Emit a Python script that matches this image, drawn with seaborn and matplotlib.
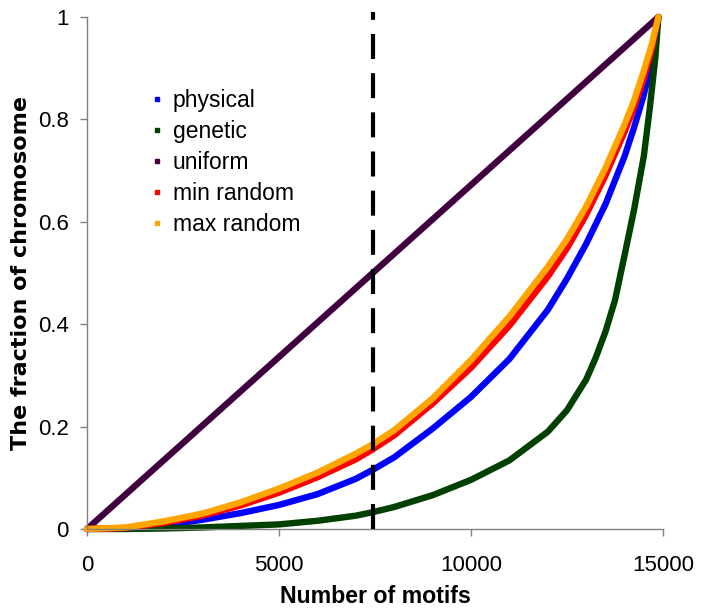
import numpy as np
import pandas as pd
import matplotlib
matplotlib.use("Agg")
import matplotlib.pyplot as plt
import seaborn as sns
from matplotlib.lines import Line2D

# --- data ---
motifs = [0, 1000, 2000, 3000, 4000, 5000, 6000, 7000, 7450, 8000, 9000,
          10000, 11000, 12000, 12500, 13000, 13500, 14000, 14250, 14500,
          14700, 14880]
physical = [0, 0.001, 0.007, 0.018, 0.031, 0.047, 0.068, 0.098, 0.116, 0.140,
            0.196, 0.258, 0.332, 0.428, 0.489, 0.557, 0.634, 0.728, 0.785,
            0.848, 0.912, 1.0]
min_random = [0, 0.002, 0.012, 0.026, 0.046, 0.071, 0.101, 0.136, 0.156, 0.183,
              0.245, 0.315, 0.397, 0.493, 0.548, 0.614, 0.690, 0.776, 0.824,
              0.88, 0.935, 1.0]
max_random = [0, 0.003, 0.015, 0.030, 0.052, 0.079, 0.110, 0.147, 0.166, 0.193,
              0.255, 0.330, 0.415, 0.512, 0.566, 0.630, 0.705, 0.790, 0.838,
              0.895, 0.945, 1.0]

# genetic rises late, so it gets its own denser sampling at the top
genetic_x = [0, 1000, 2000, 3000, 4000, 5000, 6000, 7000, 7450, 8000, 9000,
             10000, 11000, 12000, 12500, 13000, 13250, 13500, 13750, 14000,
             14250, 14500, 14650, 14800, 14880]
genetic = [0, 0.0, 0.001, 0.003, 0.006, 0.009, 0.016, 0.026, 0.033, 0.043,
           0.066, 0.096, 0.134, 0.190, 0.232, 0.292, 0.335, 0.385, 0.447,
           0.535, 0.625, 0.728, 0.818, 0.92, 1.0]

uniform_x = [0, 14880]
uniform_y = [0, 1.0]
half_line = 7440

names = ["physical", "genetic", "uniform", "min random", "max random"]
colors = ["#0000ff", "#004000", "#400040", "#ff0000", "#ffa500"]

sns.set_style("ticks")
plt.rcParams['font.family'] = ['Liberation Sans', 'DejaVu Sans']
plt.rcParams['text.color'] = 'black'
plt.rcParams['axes.labelcolor'] = 'black'

fig = plt.figure(figsize=(7.02, 6.10), dpi=100)
ax = fig.add_axes([87 / 702, 81 / 610, 576 / 702, 512 / 610])

series = {
    "physical": (motifs, physical),
    "genetic": (genetic_x, genetic),
    "uniform": (uniform_x, uniform_y),
    "min random": (motifs, min_random),
    "max random": (motifs, max_random),
}
for name, col in zip(names, colors):
    xs, ys = series[name]
    sns.lineplot(x=xs, y=ys, ax=ax, color=col, linewidth=4.6,
                 legend=False, clip_on=False)

ax.axvline(half_line, 0, 1.01, color="black", linewidth=3,
           linestyle=(0, (6.0, 3.4)), zorder=5, clip_on=False)

ax.set_xlim(0, 15000)
ax.set_ylim(0, 1)
ax.set_xticks([0, 5000, 10000, 15000])
ax.set_yticks([0, 0.2, 0.4, 0.6, 0.8, 1.0])
ax.set_yticklabels(["0", "0.2", "0.4", "0.6", "0.8", "1"])
ax.tick_params(axis="both", colors="#808080", labelcolor="black",
               length=5, width=1, labelsize=16)
ax.tick_params(axis="x", pad=14)
ax.tick_params(axis="y", pad=8)
for side in ["left", "bottom"]:
    ax.spines[side].set_color("#808080")
    ax.spines[side].set_linewidth(1)
sns.despine(ax=ax)

ax.set_xlabel("Number of motifs", fontsize=16.7, fontweight="bold",
              labelpad=6)
ax.set_ylabel("The fraction of chromosome", fontsize=16, fontweight="bold",
              family=["DejaVu Sans"], labelpad=5)

handles = [Line2D([], [], marker="s", markersize=3.5, linestyle="none",
                  color=c) for c in colors]
ax.legend(handles, names, loc="upper left", bbox_to_anchor=(0.112, 0.860),
          frameon=False, fontsize=16.5, borderpad=0, handlelength=0.5,
          handletextpad=0.42, labelspacing=0.355, borderaxespad=0)

fig.savefig("out.png", dpi=100)
